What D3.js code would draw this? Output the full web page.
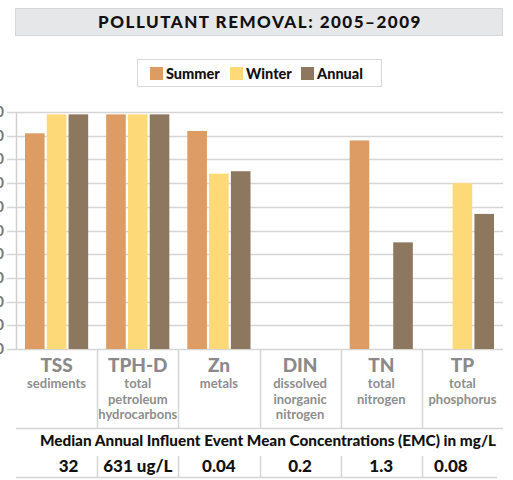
<!DOCTYPE html>
<html>
<head>
<meta charset="utf-8">
<script src="https://cdn.jsdelivr.net/npm/d3@7"></script>
<style>
  body { margin: 0; background: #fff; }
  svg text { font-family: Lato, "Open Sans", sans-serif; }
</style>
</head>
<body>
<svg width="513" height="480"></svg>
<script>
var categories = ["TSS", "TPH-D", "Zn", "DIN", "TN", "TP"];
var subLabels = [
    ["sediments"],
    ["total", "petroleum", "hydrocarbons"],
    ["metals"],
    ["dissolved", "inorganic", "nitrogen"],
    ["total", "nitrogen"],
    ["total", "phosphorus"]
];
var seriesNames = ["Summer", "Winter", "Annual"];
var summer = [91, 99, 92, 0, 88, 0];
var winter = [99, 99, 74, 0, 0, 70];
var annual = [99, 99, 75, 0, 45, 57];
var emcValues = ["32", "631 ug/L", "0.04", "0.2", "1.3", "0.08"];
var yTicks = [0, 10, 20, 30, 40, 50, 60, 70, 80, 90, 100];
var colors = ["#dc9c63", "#fdd978", "#8d775e"];

var series = [summer, winter, annual];

var svg = d3.select("svg"),
    margin = {top: 112, right: 10, bottom: 131, left: 16},
    width = +svg.attr("width") - margin.left - margin.right,
    height = +svg.attr("height") - margin.top - margin.bottom,
    g = svg.append("g").attr("transform", "translate(" + margin.left + "," + margin.top + ")");

// title bar
svg.append("rect")
    .attr("x", 15.5).attr("y", 8.5)
    .attr("width", 487).attr("height", 27)
    .attr("fill", "#e6e7e8")
    .attr("stroke", "#d6d7d8");

svg.append("text")
    .attr("x", 260).attr("y", 28)
    .attr("text-anchor", "middle")
    .attr("font-size", 17)
    .attr("font-weight", "900")
    .attr("letter-spacing", 1.5)
    .attr("fill", "#111")
    .text("POLLUTANT REMOVAL: 2005\u20132009");

// legend
var legend = svg.append("g");
legend.append("rect")
    .attr("x", 137.5).attr("y", 59.5)
    .attr("width", 244).attr("height", 27)
    .attr("fill", "#fff")
    .attr("stroke", "#d8d8d8");

var legendX = [150, 230, 301];
seriesNames.forEach(function(name, i) {
    legend.append("rect")
        .attr("x", legendX[i]).attr("y", 67)
        .attr("width", 13).attr("height", 13)
        .attr("fill", colors[i]);
    legend.append("text")
        .attr("x", legendX[i] + 16).attr("y", 79)
        .attr("font-size", 14.5)
        .attr("font-weight", "900")
        .attr("fill", "#111")
        .text(name);
});

var x0 = d3.scaleBand()
    .domain(categories)
    .range([0, width]);

var x1 = d3.scaleBand()
    .domain(d3.range(seriesNames.length))
    .range([9, x0.bandwidth() - 9])
    .paddingInner(0.1);

var y = d3.scaleLinear()
    .domain([0, 100])
    .range([height, 0]);

// gridlines
g.append("g")
    .selectAll("line")
    .data(yTicks)
    .enter().append("line")
    .attr("x1", -9).attr("x2", width)
    .attr("y1", function(d) { return Math.round(y(d)) + 0.5; })
    .attr("y2", function(d) { return Math.round(y(d)) + 0.5; })
    .attr("stroke", "#d5d5d5")
    .attr("stroke-width", 1.5);

// y tick labels (cut off at the left edge like the source)
g.append("g")
    .selectAll("text")
    .data(yTicks)
    .enter().append("text")
    .attr("x", -12)
    .attr("y", function(d) { return y(d) + 5; })
    .attr("text-anchor", "end")
    .attr("font-size", 15)
    .attr("font-weight", "bold")
    .attr("fill", "#777")
    .text(function(d) { return d; });

// axis line
g.append("line")
    .attr("x1", 0.5).attr("x2", 0.5)
    .attr("y1", 0).attr("y2", height)
    .attr("stroke", "#d0d0d0")
    .attr("stroke-width", 1.5);

// bars
var groups = g.append("g")
    .selectAll("g")
    .data(categories)
    .enter().append("g")
    .attr("transform", function(d) { return "translate(" + x0(d) + ",0)"; });

groups.selectAll("rect")
    .data(function(d, i) { return series.map(function(s, j) { return {k: j, v: s[i]}; }); })
    .enter().append("rect")
    .attr("x", function(d) { return x1(d.k); })
    .attr("width", x1.bandwidth())
    .attr("y", function(d) { return y(d.v); })
    .attr("height", function(d) { return height - y(d.v); })
    .attr("fill", function(d) { return colors[d.k]; });

// category separators through the label area
var tableTop = height, labelBottom = height + 79;
g.append("g")
    .selectAll("line")
    .data(categories.slice(1))
    .enter().append("line")
    .attr("x1", function(d) { return Math.round(x0(d)) + 0.5; })
    .attr("x2", function(d) { return Math.round(x0(d)) + 0.5; })
    .attr("y1", tableTop).attr("y2", labelBottom)
    .attr("stroke", "#d5d5d5")
    .attr("stroke-width", 1.5);

g.append("line")
    .attr("x1", 0).attr("x2", width)
    .attr("y1", labelBottom + 0.5).attr("y2", labelBottom + 0.5)
    .attr("stroke", "#d5d5d5")
    .attr("stroke-width", 1.5);

// category labels
var labels = g.append("g")
    .selectAll("g")
    .data(categories)
    .enter().append("g")
    .attr("transform", function(d) { return "translate(" + (x0(d) + x0.bandwidth() / 2) + ",0)"; });

labels.append("text")
    .attr("y", height + 23)
    .attr("text-anchor", "middle")
    .attr("font-size", 19)
    .attr("font-weight", "900")
    .attr("fill", "#8a8a8a")
    .text(function(d) { return d; });

labels.each(function(d, i) {
    d3.select(this).selectAll(".sub")
        .data(subLabels[i])
        .enter().append("text")
        .attr("class", "sub")
        .attr("y", function(t, k) { return height + 39 + k * 15.5; })
        .attr("text-anchor", "middle")
        .attr("font-size", 13)
        .attr("font-weight", "bold")
        .attr("fill", "#8e8e8e")
        .text(function(t) { return t; });
});

// EMC heading and values
svg.append("text")
    .attr("x", 268).attr("y", 446)
    .attr("text-anchor", "middle")
    .attr("font-size", 15.3)
    .attr("font-weight", "900")
    .attr("fill", "#111")
    .text("Median Annual Influent Event Mean Concentrations (EMC) in mg/L");

var rowLeft = 40, rowRight = 480;
function cellCenter(c) {
    var a = Math.max(margin.left + x0(c), rowLeft),
        b = Math.min(margin.left + x0(c) + x0.bandwidth(), rowRight);
    return (a + b) / 2;
}

svg.append("g")
    .selectAll("text")
    .data(categories)
    .enter().append("text")
    .attr("x", cellCenter)
    .attr("y", 472)
    .attr("text-anchor", "middle")
    .attr("font-size", 17)
    .attr("font-weight", "900")
    .attr("fill", "#111")
    .text(function(d, i) { return emcValues[i]; });

svg.append("g")
    .selectAll("line")
    .data(categories.slice(1))
    .enter().append("line")
    .attr("x1", function(d) { return Math.round(margin.left + x0(d)) + 0.5; })
    .attr("x2", function(d) { return Math.round(margin.left + x0(d)) + 0.5; })
    .attr("y1", 456).attr("y2", 477)
    .attr("stroke", "#d5d5d5")
    .attr("stroke-width", 1.5);

svg.append("line")
    .attr("x1", 16).attr("x2", 497)
    .attr("y1", 477.5).attr("y2", 477.5)
    .attr("stroke", "#d5d5d5")
    .attr("stroke-width", 1.5);
</script>
</body>
</html>
